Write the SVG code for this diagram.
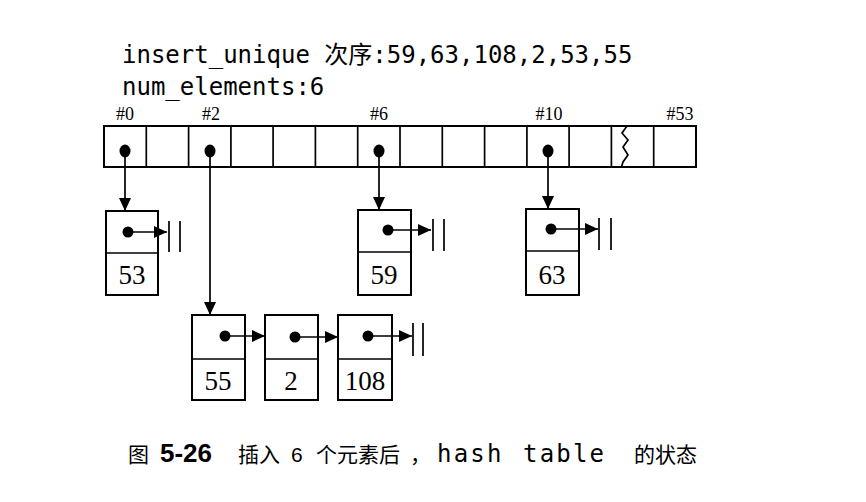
<svg xmlns="http://www.w3.org/2000/svg" width="866" height="502" viewBox="0 0 866 502">
<defs>
<style>
.box{fill:#fff;stroke:#000;stroke-width:2}
.ln{stroke:#000;stroke-width:1.7;fill:none}
.dot{fill:#000}
.num{font-family:"Liberation Serif",serif;font-size:27px;text-anchor:middle}
.idx{font-family:"Liberation Serif",serif;font-size:18px;text-anchor:middle}
.mono{font-family:"DejaVu Sans Mono","Noto Sans CJK SC",monospace;font-size:24px}
.cap{font-family:"Noto Sans CJK SC",sans-serif;font-size:21px}
.capm{font-family:"DejaVu Sans Mono",monospace;font-size:24px;letter-spacing:2.2px}
</style>
<marker id="ah" markerUnits="userSpaceOnUse" markerWidth="13" markerHeight="12" refX="13" refY="6" orient="auto">
<path d="M0,0 L13,6 L0,12 z" fill="#000"/>
</marker>
</defs>
<rect width="866" height="502" fill="#fff"/>

<g id="header">
<text class="mono" x="122" y="63">insert_unique 次序:59,63,108,2,53,55</text>
<text class="mono" x="122" y="95">num_elements:6</text>
</g>

<g id="bucket-labels">
<text class="idx" x="125" y="120">#0</text>
<text class="idx" x="211" y="120">#2</text>
<text class="idx" x="379" y="120">#6</text>
<text class="idx" x="549" y="120">#10</text>
<text class="idx" x="680" y="120">#53</text>
</g>

<g id="table">
<rect class="box" x="104" y="126" width="592" height="41"/>
<path class="ln" d="M146.3,126V167M188.6,126V167M230.9,126V167M273.1,126V167M315.4,126V167M357.7,126V167M400,126V167M442.3,126V167M484.6,126V167M526.9,126V167M569.1,126V167M611.4,126V167M653.7,126V167"/>
<polyline class="ln" points="627,126 622,133 628,140 623,147 628,155 623,162 621.5,167"/>
<ellipse class="dot" cx="125" cy="151" rx="5.5" ry="6.5"/>
<ellipse class="dot" cx="210" cy="151" rx="5.5" ry="6.5"/>
<ellipse class="dot" cx="379" cy="151" rx="5.5" ry="6.5"/>
<ellipse class="dot" cx="548" cy="151" rx="5.5" ry="6.5"/>
</g>

<g id="node-53">
<rect class="box" x="106" y="211" width="52" height="84"/>
<line class="ln" x1="106" y1="253" x2="158" y2="253"/>
<circle class="dot" cx="128" cy="232" r="5.5"/>
<text class="num" x="132" y="284">53</text>
</g>

<g id="node-59">
<rect class="box" x="358" y="210" width="53" height="85"/>
<line class="ln" x1="358" y1="252" x2="411" y2="252"/>
<circle class="dot" cx="388" cy="230" r="5.5"/>
<text class="num" x="384" y="284">59</text>
</g>

<g id="node-63">
<rect class="box" x="526" y="209" width="53" height="86"/>
<line class="ln" x1="526" y1="251" x2="579" y2="251"/>
<circle class="dot" cx="551" cy="229" r="5.5"/>
<text class="num" x="552" y="284">63</text>
</g>

<g id="node-55">
<rect class="box" x="192" y="315" width="53" height="85"/>
<line class="ln" x1="192" y1="359" x2="245" y2="359"/>
<circle class="dot" cx="225" cy="336" r="5.5"/>
<text class="num" x="218" y="390">55</text>
</g>

<g id="node-2">
<rect class="box" x="265" y="315" width="53" height="85"/>
<line class="ln" x1="265" y1="359" x2="318" y2="359"/>
<circle class="dot" cx="295" cy="337" r="5.5"/>
<text class="num" x="291" y="390">2</text>
</g>

<g id="node-108">
<rect class="box" x="338" y="315" width="54" height="85"/>
<line class="ln" x1="338" y1="359" x2="392" y2="359"/>
<circle class="dot" cx="368" cy="336" r="5.5"/>
<text class="num" x="365" y="390">108</text>
</g>

<g id="connectors">
<line class="ln" x1="125" y1="151" x2="125" y2="211" marker-end="url(#ah)"/>
<line class="ln" x1="210" y1="151" x2="210" y2="315" marker-end="url(#ah)"/>
<line class="ln" x1="379" y1="151" x2="379" y2="210" marker-end="url(#ah)"/>
<line class="ln" x1="548" y1="151" x2="548" y2="209" marker-end="url(#ah)"/>
<line class="ln" x1="128" y1="232" x2="167" y2="232" marker-end="url(#ah)"/>
<line class="ln" x1="388" y1="230" x2="431" y2="230" marker-end="url(#ah)"/>
<line class="ln" x1="551" y1="229" x2="598" y2="229" marker-end="url(#ah)"/>
<line class="ln" x1="225" y1="336" x2="265" y2="336" marker-end="url(#ah)"/>
<line class="ln" x1="295" y1="337" x2="338" y2="337" marker-end="url(#ah)"/>
<line class="ln" x1="368" y1="336" x2="412" y2="336" marker-end="url(#ah)"/>
<path class="ln" d="M169,221V252M180,221V252"/>
<path class="ln" d="M433,219V251M444,219V251"/>
<path class="ln" d="M599,218V250M611,218V250"/>
<path class="ln" d="M413,323V356M423,323V356"/>
</g>

<g id="caption">
<text class="cap" x="128" y="462">图</text>
<text x="160" y="462" font-family="Liberation Sans,sans-serif" font-size="26" font-weight="bold">5-26</text>
<text class="cap" y="462"><tspan x="238">插入</tspan><tspan x="291" font-family="Liberation Sans,sans-serif">6</tspan><tspan x="316">个元素后</tspan><tspan x="410">，</tspan></text>
<text class="capm" x="437" y="462">hash</text>
<text class="capm" x="523" y="462">table</text>
<text class="cap" x="634" y="462">的状态</text>
</g>
</svg>
